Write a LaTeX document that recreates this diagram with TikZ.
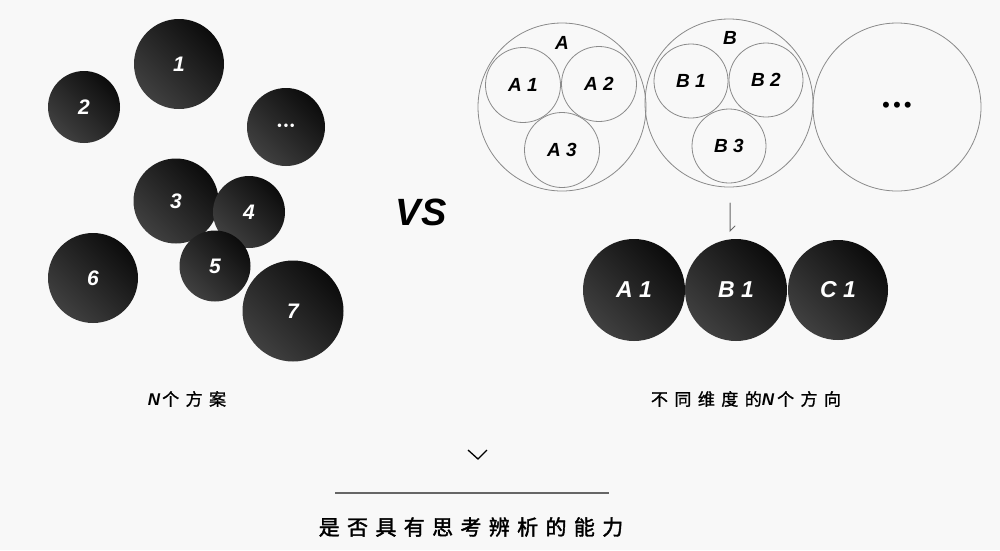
\documentclass[tikz,border=0pt]{standalone}
\usepackage{fontspec}
\setmainfont{Liberation Sans}
\newfontfamily\cjksp[LetterSpace=38,FakeBold=1.2]{Noto Sans CJK SC}
\newfontfamily\cjkttl[LetterSpace=35,FakeBold=1.8]{Noto Sans CJK SC}
\newfontfamily\dejavu{DejaVu Sans}
\definecolor{bgc}{HTML}{F8F8F8}
\definecolor{balldark}{HTML}{0C0C0C}
\definecolor{balllight}{HTML}{404040}
\definecolor{ringgray}{HTML}{8A8A8A}
\definecolor{linegray}{HTML}{666666}
\tikzset{
  ball/.style={circle, minimum size=#1, inner sep=0pt, top color=balldark, bottom color=balllight, shading angle=-45, text=white,
    font=\bfseries\itshape\fontsize{21}{21}\selectfont},
  bigball/.style={ball=#1, font=\bfseries\itshape\fontsize{23}{23}\selectfont},
  ring/.style={circle, draw=ringgray, line width=0.8pt, minimum size=#1, inner sep=0pt,
    font=\bfseries\itshape\fontsize{19}{19}\selectfont},
  lbl/.style={font=\bfseries\itshape\fontsize{19}{19}\selectfont, inner sep=0pt},
  captxt/.style={inner sep=0pt, font=\fontsize{17}{17}\selectfont},
  titletxt/.style={inner sep=0pt, font=\fontsize{21}{21}\selectfont},
  thinline/.style={draw=linegray, line width=1pt, line cap=round},
}
\begin{document}
\begin{tikzpicture}[x=1pt,y=-1pt]
\fill[bgc] (0,0) rectangle (1000,550);
\useasboundingbox (0,0) rectangle (1000,550);
% left cluster
\node[ball=90pt] (n1) at (179,64) {1};
\node[ball=72pt] (n2) at (84,107) {2};
\node[ball=78pt] (ndots) at (286,127) {\dejavu\fontsize{10}{10}\selectfont •••};
\node[ball=85pt] (n3) at (176,201) {3};
\node[ball=72pt] (n4) at (249,212) {4};
\node[ball=71pt] (n5) at (215,266) {5};
\node[ball=90pt] (n6) at (93,278) {6};
\node[ball=101pt] (n7) at (293,311) {7};
% VS
\node[inner sep=0pt, font=\bfseries\itshape\fontsize{38}{38}\selectfont] (vs) at (421,212) {V\kern1pt S};
% right rings
\node[ring=168pt] (A) at (562,107) {};
\node[lbl] (Alab) at (562,43) {A};
\node[ring=75pt] (A1) at (523,85) {A 1};
\node[ring=75pt] (A2) at (599,84) {A 2};
\node[ring=75pt] (A3) at (562,150) {A 3};
\node[ring=168pt] (B) at (729,103) {};
\node[lbl] (Blab) at (730,38) {B};
\node[ring=74pt] (B1) at (691,81) {B 1};
\node[ring=74pt] (B2) at (766,80) {B 2};
\node[ring=74pt] (B3) at (729,146) {B 3};
\node[ring=168pt] (C) at (897,107) {\dejavu\bfseries\fontsize{17}{17}\selectfont •••};
% arrow
\coordinate (ar1) at (730,203);
\coordinate (ar2) at (730,231);
\coordinate (ar3) at (735,226);
\draw[thinline] (ar1) -- (ar2) -- (ar3);
% black row
\node[bigball=102pt] (bA1) at (634,290) {A 1};
\node[bigball=102pt] (bB1) at (736,290) {B 1};
\node[bigball=100pt] (bC1) at (838,290) {C 1};
% captions
\node[captxt] (capL) at (187,399) {{\bfseries\itshape N}\hspace{2pt}\cjksp 个方案};
\node[captxt] (capR) at (746,399) {\cjksp 不同维度的{\rmfamily\bfseries\itshape N}\hspace{3pt}个方向};
% chevron
\coordinate (ch1) at (468,450);
\coordinate (ch2) at (478,459);
\coordinate (ch3) at (487,450);
\draw[line width=1.3pt, black] (ch1) -- (ch2) -- (ch3);
% rule
\coordinate (r1) at (335,493);
\coordinate (r2) at (609,493);
\draw[draw=linegray, line width=1.5pt] (r1) -- (r2);
\node[titletxt] (ttl) at (471,527) {\cjkttl 是否具有思考辨析的能力};
\end{tikzpicture}
\end{document}
